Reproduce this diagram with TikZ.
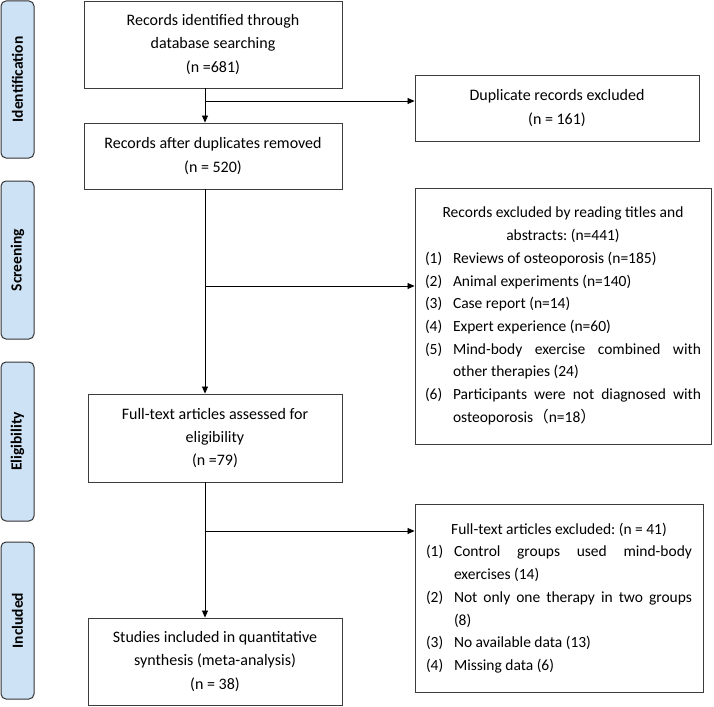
\documentclass[tikz,border=0pt]{standalone}
\usepackage{fontspec}
\setmainfont{Carlito}
\newfontfamily\cjk{Noto Sans CJK SC}
\usetikzlibrary{arrows.meta}
\definecolor{sidefill}{RGB}{206,226,245}
\definecolor{boxline}{RGB}{60,60,60}
\newcommand{\itm}[2]{\par\noindent\hangindent=28pt\hangafter=1\makebox[28pt][l]{#1}#2\par}
\begin{document}
\frenchspacing
\begin{tikzpicture}[x=1pt,y=-1pt,
  box/.style={draw=boxline, line width=0.9pt, align=center, inner sep=0pt,
    font=\fontsize{16}{23.2}\selectfont},
  listbox/.style={draw=boxline, line width=0.9pt, inner sep=0pt},
  listtext/.style={align=justify, inner sep=0pt, font=\fontsize{15.5}{22.7}\selectfont},
  side/.style={draw=black!80, fill=sidefill, rounded corners=5pt, line width=1pt,
    minimum width=33pt, inner sep=0pt},
  sidelabel/.style={rotate=90, font=\bfseries\fontsize{15.5}{17}\selectfont},
  arr/.style={-{Triangle[length=7pt,width=6pt]}, line width=0.8pt},
  ln/.style={line width=0.8pt}]
\useasboundingbox (0,0) rectangle (714,706);

% side bars
\node[side, minimum height=157pt] (s1) at (17.5,79.5) {};
\node[sidelabel] at (s1) {Identification};
\node[side, minimum height=158pt] (s2) at (17.5,260) {};
\node[sidelabel] at (s2) {Screening};
\node[side, minimum height=159pt] (s3) at (17.5,441.5) {};
\node[sidelabel] at (s3) {Eligibility};
\node[side, minimum height=157pt] (s4) at (17.5,620.5) {};
\node[sidelabel] at (s4) {Included};

% main boxes
\node[box, minimum width=258pt, minimum height=87pt] (b1) at (213,44.5)
  {Records identified through\\database searching\\(n =681)};
\node[box, minimum width=258pt, minimum height=66pt] (b2) at (213,156)
  {Records after duplicates removed\\(n = 520)};
\node[box, minimum width=254pt, minimum height=88pt] (b4) at (215,438)
  {Full-text articles assessed for\\eligibility\\(n =79)};
\node[box, minimum width=254pt, minimum height=87pt] (b5) at (215,661.5)
  {Studies included in quantitative\\synthesis (meta-analysis)\\(n = 38)};

% right boxes
\node[box, minimum width=284pt, minimum height=66pt] (dup) at (557,108)
  {Duplicate records excluded\\(n = 161)};
\node[listbox, minimum width=296pt, minimum height=256pt] (ex1) at (563,316) {};
\node[listtext, text width=276pt] (t1) at (ex1.center) {%
  \hyphenpenalty=10000\exhyphenpenalty=10000
  {\centering Records excluded by reading titles and\\abstracts: (n=441)\par}
  \itm{(1)}{Reviews of osteoporosis (n=185)}
  \itm{(2)}{Animal experiments (n=140)}
  \itm{(3)}{Case report (n=14)}
  \itm{(4)}{Expert experience (n=60)}
  \itm{(5)}{Mind-body exercise combined with\linebreak other therapies (24)}
  \itm{(6)}{Participants were not diagnosed with\linebreak osteoporosis{\cjk （}n=18{\cjk ）}}};
\node[listbox, minimum width=288pt, minimum height=188pt] (ex2) at (559,598) {};
\node[listtext, text width=266pt] (t2) at (ex2.center) {%
  \hyphenpenalty=10000\exhyphenpenalty=10000
  {\centering Full-text articles excluded: (n = 41)\par}
  \itm{(1)}{Control groups used mind-body\linebreak exercises (14)}
  \itm{(2)}{Not only one therapy in two groups\linebreak (8)}
  \itm{(3)}{No available data (13)}
  \itm{(4)}{Missing data (6)}};

% connectors
\coordinate (vx) at (205,0);
\coordinate (j1) at (205,101);
\coordinate (j2) at (205,286);
\coordinate (j3) at (205,531);
\draw[arr] (b1.south -| vx) -- (b2.north -| vx);
\draw[arr] (j1) -- (dup.west |- j1);
\draw[arr] (b2.south -| vx) -- (b4.north -| vx);
\draw[arr] (j2) -- (ex1.west |- j2);
\draw[arr] (b4.south -| vx) -- (b5.north -| vx);
\draw[arr] (j3) -- (ex2.west |- j3);
\end{tikzpicture}
\end{document}
